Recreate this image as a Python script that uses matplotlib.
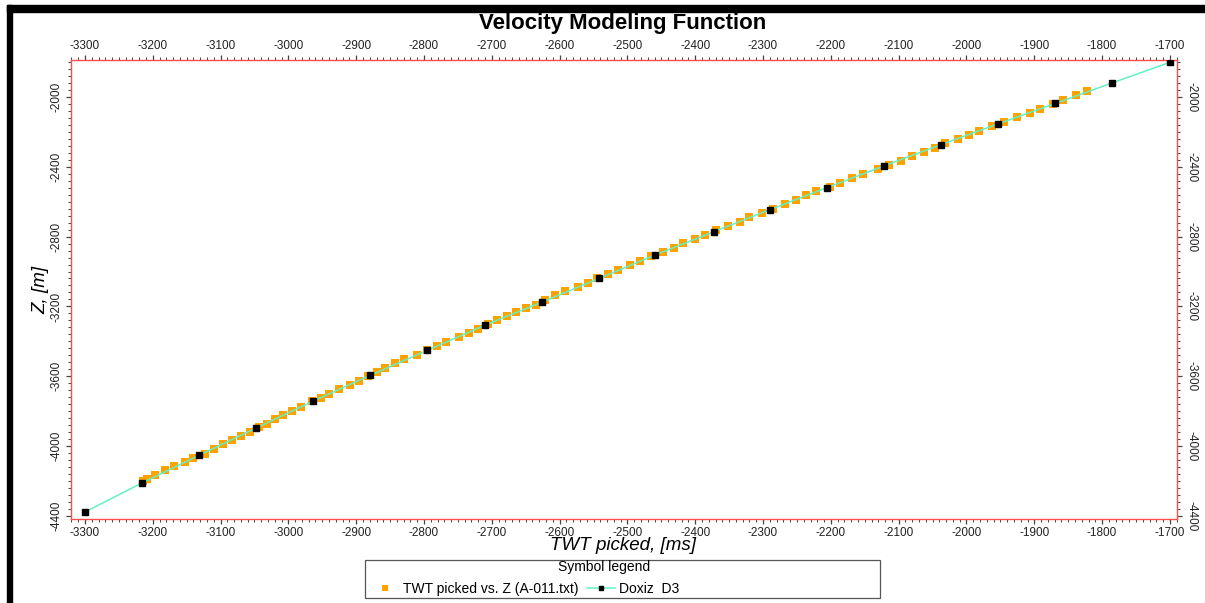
import numpy as np
import matplotlib
matplotlib.use("Agg")
import matplotlib.pyplot as plt
from matplotlib.patches import Rectangle
from matplotlib.ticker import MultipleLocator

plt.rcParams['font.family'] = ['Liberation Sans', 'DejaVu Sans']
plt.rcParams['axes.unicode_minus'] = False

# TWT picked vs. Z (A-011.txt) - orange picks
twt_picked = [-3215, -3209, -3196, -3182, -3168, -3153, -3140, -3123, -3110, -3097,
              -3083, -3070, -3056, -3044, -3032, -3019, -3008, -2994, -2982, -2965,
              -2952, -2940, -2925, -2909, -2896, -2882, -2870, -2857, -2843, -2829,
              -2811, -2796, -2781, -2767, -2749, -2734, -2720, -2706, -2692, -2677,
              -2664, -2649, -2635, -2621, -2607, -2592, -2573, -2558, -2545, -2529,
              -2514, -2496, -2481, -2465, -2447, -2432, -2418, -2401, -2386, -2369,
              -2352, -2334, -2320, -2302, -2285, -2268, -2252, -2236, -2222, -2201,
              -2187, -2169, -2152, -2131, -2115, -2096, -2080, -2062, -2046, -2031,
              -2012, -1997, -1981, -1962, -1944, -1926, -1907, -1892, -1873, -1857,
              -1839, -1823]
z_picked = [-4200, -4190, -4166, -4139, -4116, -4093, -4065, -4042, -4019, -3990,
            -3967, -3944, -3920, -3893, -3872, -3847, -3821, -3796, -3773, -3743,
            -3722, -3699, -3672, -3650, -3627, -3598, -3575, -3553, -3526, -3501,
            -3478, -3450, -3427, -3404, -3377, -3354, -3330, -3303, -3280, -3257,
            -3230, -3210, -3189, -3162, -3137, -3114, -3087, -3065, -3040, -3013,
            -2990, -2962, -2937, -2914, -2887, -2865, -2838, -2813, -2790, -2762,
            -2739, -2716, -2687, -2665, -2642, -2615, -2590, -2564, -2541, -2518,
            -2491, -2467, -2442, -2415, -2393, -2366, -2341, -2316, -2291, -2267,
            -2240, -2217, -2193, -2166, -2143, -2114, -2091, -2067, -2042, -2017,
            -1990, -1966]

# Doxiz D3 velocity function
twt_d3 = [-3300, -3216, -3132, -3048, -2964, -2879, -2795, -2710, -2626, -2542,
          -2459, -2373, -2290, -2206, -2122, -2038, -1953, -1869, -1785, -1700]
z_d3 = [-4377, -4211, -4053, -3897, -3743, -3594, -3451, -3307, -3175, -3040,
        -2905, -2773, -2646, -2520, -2396, -2274, -2154, -2038, -1920, -1802]

fig = plt.figure(figsize=(12.05, 6.03), dpi=100)
ax = fig.add_axes([70.7 / 1205, 1 - 519 / 603, (1176.7 - 70.7) / 1205, (519 - 60) / 603])

h1, = ax.plot(twt_picked, z_picked, 's', color='#ffa200', markersize=6,
              markeredgewidth=0, zorder=2, label='TWT picked vs. Z (A-011.txt)')
h2, = ax.plot(twt_d3, z_d3, '-s', color='#62f0c6', lw=1.1, markersize=4,
              markerfacecolor='black', markeredgecolor='black', zorder=3,
              label='Doxiz  D3')

ax.set_xlim(-3321, -1690)
ax.set_ylim(-4417, -1789)
ax.xaxis.set_major_locator(MultipleLocator(100))
ax.xaxis.set_minor_locator(MultipleLocator(10))
ax.yaxis.set_major_locator(MultipleLocator(400))
ax.yaxis.set_minor_locator(MultipleLocator(40))

for s in ax.spines.values():
    s.set_color('#ff4d4d')
    s.set_linewidth(1.0)

ax.tick_params(which='both', direction='out', top=True, right=True,
               labeltop=True, labelright=True, color='#444444',
               labelsize=8.5, labelcolor='#222222')
ax.tick_params(which='major', length=3.8, width=0.9, pad=2.2)
ax.tick_params(which='minor', length=2.2, width=0.7)
ax.tick_params(axis='y', labelrotation=90)
for t in ax.yaxis.get_major_ticks():
    t.label1.set_verticalalignment('center')
    t.label2.set_rotation(270)
    t.label2.set_verticalalignment('center')

fig.text(0.517, 1 - 23 / 603, 'Velocity Modeling Function', ha='center', va='center',
         fontsize=16, fontweight='bold')
fig.text(0.517, 1 - 546 / 603, 'TWT picked, [ms]', ha='center', va='center',
         fontsize=13.5, style='italic')
fig.text(41 / 1205, 1 - 290 / 603, 'Z, [m]', ha='center', va='center',
         fontsize=13.5, style='italic', rotation=90)

# legend box
fig.patches.append(Rectangle((365 / 1205, 1 - 598 / 603), 515 / 1205, 38 / 603,
                             transform=fig.transFigure, facecolor='none',
                             edgecolor='#555555', lw=0.9))
fig.text(604 / 1205, 1 - 567 / 603, 'Symbol legend', ha='center', va='center', fontsize=10)
fig.legend(handles=[h1, h2], loc='center left', bbox_to_anchor=(371 / 1205, 1 - 589 / 603),
           ncol=2, frameon=False, fontsize=10, borderpad=0, borderaxespad=0,
           handlelength=2.0, handletextpad=0.3, columnspacing=0.6, markerscale=0.8)

# black frame at top and left
fig.patches.append(Rectangle((7 / 1205, 0), 5 / 1205, 1 - 5 / 603,
                             transform=fig.transFigure, color='black'))
fig.patches.append(Rectangle((7 / 1205, 1 - 12 / 603), 1 - 7 / 1205, 7 / 603,
                             transform=fig.transFigure, color='black'))

fig.savefig('out.png', dpi=100)
